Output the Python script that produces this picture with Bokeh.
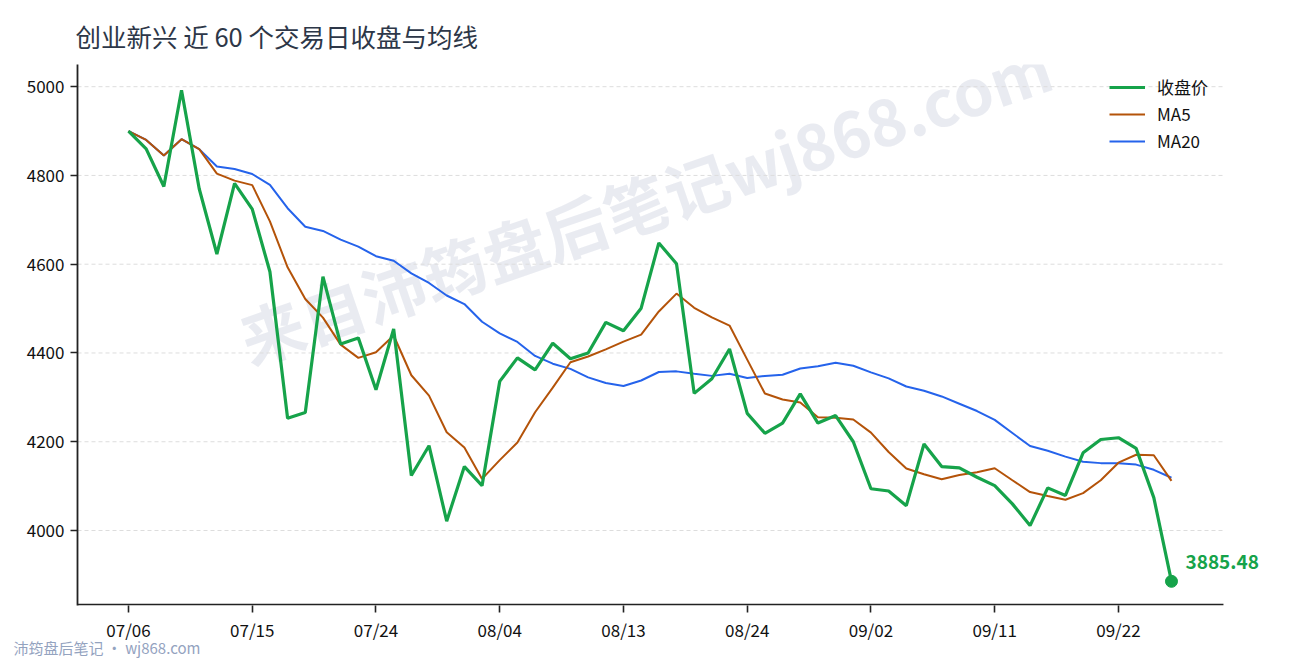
from bokeh.models import ColumnDataSource, Legend, LegendItem, Label, FixedTicker, Title
from bokeh.plotting import figure
from bokeh.embed import file_html
from bokeh.resources import INLINE
import pandas as pd

FONT = "Noto Sans CJK SC"

# 60 trading days
dates = [
    "07/06", "07/07", "07/08", "07/09", "07/10", "07/13", "07/14", "07/15", "07/16", "07/17",
    "07/20", "07/21", "07/22", "07/23", "07/24", "07/27", "07/28", "07/29", "07/30", "07/31",
    "08/03", "08/04", "08/05", "08/06", "08/07", "08/10", "08/11", "08/12", "08/13", "08/14",
    "08/17", "08/18", "08/19", "08/20", "08/21", "08/24", "08/25", "08/26", "08/27", "08/28",
    "08/31", "09/01", "09/02", "09/03", "09/04", "09/07", "09/08", "09/09", "09/10", "09/11",
    "09/14", "09/15", "09/16", "09/17", "09/18", "09/21", "09/22", "09/23", "09/24", "09/25",
]
close = [
    4900, 4860, 4775, 4992, 4770, 4623, 4782, 4724, 4583, 4253,
    4266, 4572, 4420, 4434, 4317, 4454, 4124, 4191, 4021, 4144,
    4101, 4336, 4389, 4362, 4422, 4387, 4400, 4469, 4450, 4501,
    4648, 4601, 4309, 4342, 4409, 4264, 4219, 4242, 4308, 4242,
    4259, 4200, 4094, 4089, 4056, 4195, 4144, 4141, 4120, 4101,
    4060, 4011, 4096, 4079, 4175, 4205, 4209, 4185, 4074, 3885.48,
]
x_tick_pos = [0, 7, 14, 21, 28, 35, 42, 49, 56]
y_ticks = [4000, 4200, 4400, 4600, 4800, 5000]

s = pd.Series(close)
ma5 = s.rolling(5, min_periods=1).mean()
ma20 = s.rolling(20, min_periods=1).mean()
idx = list(range(len(close)))
source = ColumnDataSource(data={"i": idx, "close": close, "ma5": ma5, "ma20": ma20})

X0, X_AXIS_END, X1 = -2.885, 61.94, 65.28
Y0, Y1 = 3831, 5050

p = figure(width=1290, height=660, output_backend="svg", toolbar_location=None, tools="",
           x_range=(X0, X1), y_range=(Y0, Y1),
           min_border_left=77, min_border_right=8, min_border_top=64, min_border_bottom=55)
p.title.text = "创业新兴 近 60 个交易日收盘与均线"
p.title.text_font = FONT
p.title.text_font_size = "25.5px"
p.title.text_font_style = "normal"
p.title.text_color = "#2d3748"
p.title.standoff = 21
p.title.offset = -2

# watermark behind everything
wm = Label(x=29.2, y=4743, text="来自沛筠盘后笔记wj868.com", angle=19, angle_units="deg",
           text_font=FONT, text_font_size="64px", text_font_style="bold",
           text_color="#e4e6ee", text_alpha=0.8, text_align="center", text_baseline="middle",
           level="underlay")
p.add_layout(wm)

# horizontal grid and bottom axis line, kept to the axis length
p.segment(x0=[X0] * len(y_ticks), x1=[X_AXIS_END] * len(y_ticks), y0=y_ticks, y1=y_ticks,
          line_color="#dddddd", line_width=1, line_dash="4 3")
p.segment(x0=[X0], x1=[X_AXIS_END], y0=[Y0 + 2], y1=[Y0 + 2], line_color="#222222", line_width=1.8)

l20 = p.line("i", "ma20", source=source, line_width=2, color="#2563eb")
l5 = p.line("i", "ma5", source=source, line_width=2, color="#b45309")
lc = p.line("i", "close", source=source, line_width=3.2, color="#16a34a")
p.scatter(x=[idx[-1]], y=[close[-1]], size=12, color="#16a34a")

last = Label(x=idx[-1], y=close[-1], text=f"{close[-1]:.2f}", x_offset=14, y_offset=19,
             text_font=FONT, text_font_size="19px", text_font_style="bold",
             text_color="#16a34a", text_baseline="middle")
p.add_layout(last)

legend = Legend(items=[
    LegendItem(label="收盘价", renderers=[lc]),
    LegendItem(label="MA5", renderers=[l5]),
    LegendItem(label="MA20", renderers=[l20]),
], location=(1032, 452))
legend.label_text_font = FONT
legend.label_text_font_size = "17px"
legend.label_text_color = "#111111"
legend.glyph_width = 36
legend.glyph_height = 24
legend.label_height = 24
legend.spacing = 2
legend.label_standoff = 12
legend.padding = 4
legend.margin = 0
legend.border_line_color = None
legend.background_fill_alpha = 0
p.add_layout(legend)

footer = Title(text="沛筠盘后笔记 · wj868.com", align="left", offset=-64, standoff=-20,
               text_font=FONT, text_font_size="15px", text_font_style="normal", text_color="#94a3bf")
p.add_layout(footer, "below")

p.xaxis.ticker = FixedTicker(ticks=x_tick_pos)
p.xaxis.major_label_overrides = {i: dates[i] for i in x_tick_pos}
p.yaxis.ticker = FixedTicker(ticks=y_ticks)
for ax in (p.xaxis, p.yaxis):
    ax.axis_line_color = "#222222"
    ax.axis_line_width = 1.8
    ax.major_tick_line_color = "#222222"
    ax.major_tick_line_width = 1.6
    ax.major_tick_out = 7
    ax.major_tick_in = 0
    ax.minor_tick_line_color = None
    ax.major_label_text_font = FONT
    ax.major_label_text_font_size = "17px"
    ax.major_label_text_color = "#111111"
    ax.major_label_standoff = 6
p.xaxis.axis_line_color = None
p.xaxis.major_label_standoff = 4

p.xgrid.visible = False
p.ygrid.visible = False
p.outline_line_color = None
p.background_fill_color = "white"

open("out.html", "w").write(file_html(p, INLINE))
